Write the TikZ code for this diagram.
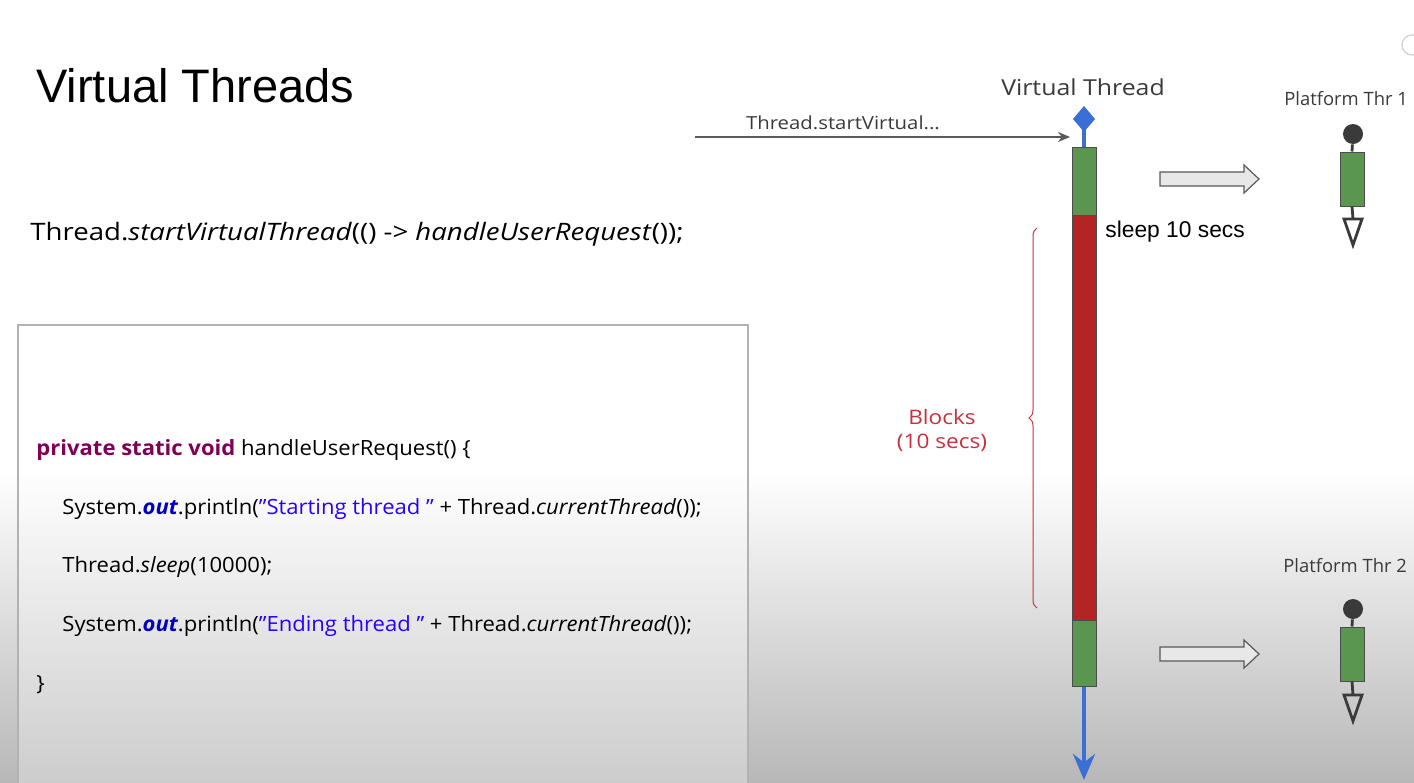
\documentclass[tikz,border=0pt]{standalone}
\usepackage{fontspec}
\setmainfont{Open Sans}[FakeStretch=1.05]
\newfontfamily\callfont{Open Sans}[FakeStretch=1.15]
\newfontfamily\comicfont{Open Sans}[FakeStretch=1.13]
\newfontfamily\lanefont{Open Sans}
\newfontfamily\arialfont{Liberation Sans}
\usetikzlibrary{decorations.pathreplacing,arrows.meta}

\definecolor{vtblue}{HTML}{3C6FD6}
\definecolor{tgreen}{HTML}{5A9650}
\definecolor{tred}{HTML}{B52424}
\definecolor{kwcol}{HTML}{7F0055}
\definecolor{fldcol}{HTML}{0000C0}
\definecolor{strcol}{HTML}{2A00FF}
\definecolor{brred}{HTML}{C8303C}
\definecolor{inkgray}{HTML}{3A3A3A}

\newcommand{\kw}[1]{\textcolor{kwcol}{\bfseries #1}}
\newcommand{\fld}[1]{\textcolor{fldcol}{\bfseries\itshape #1}}
\newcommand{\str}[1]{\textcolor{strcol}{#1}}

\tikzset{
  codeline/.style={anchor=base west, inner sep=0pt, font=\fontsize{10.5}{12}\selectfont},
  comic/.style={inner sep=0pt, text=inkgray},
  segbox/.style={draw=black!70, line width=0.5pt},
  blockarrow/.style={draw=black!65, fill=black!9, line width=0.6pt, line join=miter},
  pthread/.style={draw=inkgray, line width=1.4pt},
}

\begin{document}
\begin{tikzpicture}[x=0.5pt, y=-0.5pt]
  \useasboundingbox (0,0) rectangle (1414,782);
  \clip (0,0) rectangle (1414,782);

  % page background with darker lower part
  \fill[white] (0,0) rectangle (1414,782);
  \shade[top color=white, bottom color=black!28] (0,470) rectangle (1414,782);

  % corner icon
  \draw[black!18, line width=0.6pt] (1412,45) circle (10);

  % title and call
  \node[anchor=base west, inner sep=0pt, font=\arialfont\fontsize{23.5}{28}\selectfont] (title) at (36,102) {Virtual Threads};
  \node[anchor=base west, inner sep=0pt, font=\callfont\fontsize{12}{14}\selectfont] (call) at (30,240)
    {Thread.\textit{startVirtualThread}(() -> \textit{handleUserRequest}());};

  % code panel
  \draw[black!30, line width=1pt, fill=white, fill opacity=0.3] (18,325) rectangle (748,800);
  \node[codeline] (l1) at (36,455) {\kw{private static void} handleUserRequest() \{};
  \node[codeline] (l2) at (62,514) {System.\fld{out}.println(\str{"Starting thread "} + Thread.\textit{currentThread}());};
  \node[codeline] (l3) at (62,572) {Thread.\textit{sleep}(10000);};
  \node[codeline] (l4) at (62,631) {System.\fld{out}.println(\str{"Ending thread "} + Thread.\textit{currentThread}());};
  \node[codeline] (l5) at (36,690) {\}};

  % virtual thread lane
  \node[comic, font=\comicfont\fontsize{11}{13}\selectfont] (vtlabel) at (1083,87) {Virtual Thread};
  \fill[vtblue] (1084,106) -- (1095,119) -- (1084,132) -- (1073,119) -- cycle;
  \coordinate (vtstart) at (1084,119);
  \fill[tgreen] (1072,147) rectangle (1096,215);
  \fill[tred] (1072,215) rectangle (1096,620);
  \fill[tgreen] (1072,620) rectangle (1096,686);
  \node[segbox, minimum width=12pt, minimum height=34pt, inner sep=0pt] (seg1) at (1084,181) {};
  \node[segbox, minimum width=12pt, minimum height=202.5pt, inner sep=0pt] (seg2) at (1084,417.5) {};
  \node[segbox, minimum width=12pt, minimum height=33pt, inner sep=0pt] (seg3) at (1084,653) {};
  \draw[vtblue, line width=2pt] (vtstart) -- (seg1.north);
  \coordinate (vtend) at (1084,780);
  \draw[vtblue, line width=2pt, -{Stealth[length=13pt, width=11pt]}] (seg3.south) -- (vtend);

  % incoming call
  \coordinate (callsrc) at (695,137);
  \coordinate (callin) at (1070,137);
  \draw[black!65, line width=0.7pt, -{Stealth[length=6pt, width=5pt]}] (callsrc) -- (callin);
  \node[comic, font=\comicfont\fontsize{9}{11}\selectfont] (calllabel) at (843,123) {Thread.startVirtual...};

  % sleep label and blocking brace
  \node[anchor=west, inner sep=0pt, font=\arialfont\fontsize{11.4}{13}\selectfont] (sleeplabel) at (1105,232) {sleep 10 secs};
  \coordinate (brbot) at (1037,608);
  \coordinate (brtop) at (1037,228);
  \draw[brred, line width=0.5pt, decorate, decoration={brace, amplitude=4pt}] (brbot) -- (brtop);
  \node[comic, text=brred, font=\comicfont\fontsize{10}{12}\selectfont, align=center] (blocks) at (942,430) {Blocks\\(10 secs)};

  % hand-off arrows
  \draw[blockarrow] (1160,172) -- (1244,172) -- (1244,165) -- (1259,179) -- (1244,193) -- (1244,186) -- (1160,186) -- cycle;
  \draw[blockarrow] (1160,647) -- (1244,647) -- (1244,640) -- (1259,654) -- (1244,668) -- (1244,661) -- (1160,661) -- cycle;

  % platform thread 1
  \node[comic, anchor=base west, font=\lanefont\fontsize{9.2}{11}\selectfont] (pt1label) at (1284,105) {Platform Thr 1};
  \node[circle, fill=inkgray, minimum size=10pt, inner sep=0pt] (pt1top) at (1353,134) {};
  \node[segbox, fill=tgreen, minimum width=12pt, minimum height=27pt, inner sep=0pt] (pt1box) at (1352,179) {};
  \coordinate (pt1tri) at (1353,219);
  \draw[pthread] (pt1top) -- (pt1box.north);
  \draw[pthread] (pt1box.south) -- (pt1tri);
  \draw[pthread, line join=miter] (1344,219) -- (1362,219) -- (1353,245) -- cycle;

  % platform thread 2
  \node[comic, anchor=base west, font=\lanefont\fontsize{9.2}{11}\selectfont] (pt2label) at (1283,572) {Platform Thr 2};
  \node[circle, fill=inkgray, minimum size=10pt, inner sep=0pt] (pt2top) at (1353,609) {};
  \node[segbox, fill=tgreen, minimum width=12pt, minimum height=27pt, inner sep=0pt] (pt2box) at (1352,654) {};
  \coordinate (pt2tri) at (1353,695);
  \draw[pthread] (pt2top) -- (pt2box.north);
  \draw[pthread] (pt2box.south) -- (pt2tri);
  \draw[pthread, line join=miter] (1344,695) -- (1362,695) -- (1353,721) -- cycle;
\end{tikzpicture}
\end{document}
